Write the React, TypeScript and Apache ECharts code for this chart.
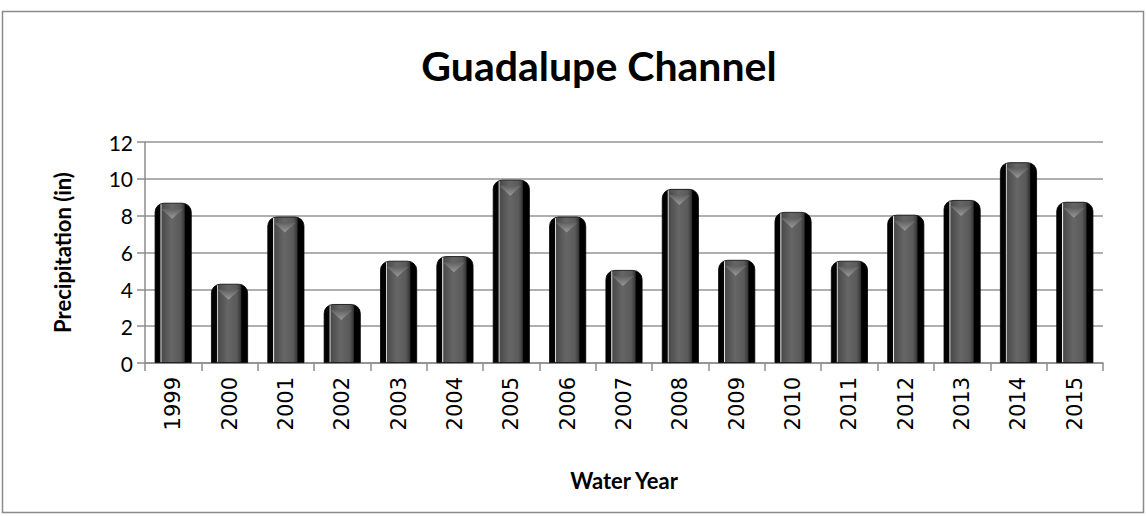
import React, { useEffect, useRef } from "react";
import * as echarts from "echarts";

const years = ["1999","2000","2001","2002","2003","2004","2005","2006","2007","2008","2009","2010","2011","2012","2013","2014","2015"];
const precipitation = [8.7, 4.3, 7.95, 3.2, 5.55, 5.8, 9.95, 7.95, 5.05, 9.45, 5.6, 8.2, 5.55, 8.05, 8.85, 10.9, 8.75];
const yTicks = { min: 0, max: 12, interval: 2 };

const barGradient = new echarts.graphic.LinearGradient(0, 0, 1, 0, [
  { offset: 0, color: "#000000" },
  { offset: 0.14, color: "#050505" },
  { offset: 0.16, color: "#f2f2f2" },
  { offset: 0.19, color: "#4a4a4a" },
  { offset: 0.45, color: "#666666" },
  { offset: 0.7, color: "#5a5a5a" },
  { offset: 0.8, color: "#3a3a3a" },
  { offset: 0.84, color: "#000000" },
  { offset: 1, color: "#000000" },
]);

const triGradient = new echarts.graphic.LinearGradient(0, 0, 0, 1, [
  { offset: 0, color: "#9a9a9a" },
  { offset: 1, color: "#606060" },
]);

export default function App() {
  const ref = useRef<HTMLDivElement>(null);
  useEffect(() => {
    if (!ref.current) return;
    const chart = echarts.init(ref.current, null, { renderer: "svg" });
    chart.setOption({
      animation: false,
      backgroundColor: "#ffffff",
      title: {
        text: "Guadalupe Channel",
        left: 594,
        top: 40,
        textAlign: "center",
        textStyle: { fontFamily: "Lato", fontWeight: "bold", fontSize: 41, color: "#000" },
      },
      graphic: [
        {
          type: "rect",
          shape: { x: 2.5, y: 11.5, width: 1141, height: 501 },
          style: { fill: "none", stroke: "#8a8a8a", lineWidth: 1.5 },
          silent: true,
        },
      ],
      grid: { left: 145, right: 43, top: 142, bottom: 153 },
      xAxis: {
        type: "category",
        data: years,
        boundaryGap: true,
        name: "Water Year",
        nameLocation: "middle",
        nameGap: 106,
        nameTextStyle: { fontFamily: "Lato", fontWeight: "bold", fontSize: 22, color: "#000" },
        axisLine: { lineStyle: { color: "#8c8c8c", width: 1.5 } },
        axisTick: { show: true, alignWithLabel: false, length: 8, lineStyle: { color: "#8c8c8c", width: 1.5 } },
        axisLabel: {
          rotate: 90,
          interval: 0,
          margin: 14,
          fontFamily: "DejaVu Sans",
          fontSize: 21,
          color: "#000",
        },
      },
      yAxis: {
        type: "value",
        min: yTicks.min,
        max: yTicks.max,
        interval: yTicks.interval,
        name: "Precipitation (in)",
        nameLocation: "middle",
        nameGap: 72,
        nameTextStyle: { fontFamily: "Lato", fontWeight: "bold", fontSize: 22, color: "#000" },
        axisLine: { show: true, lineStyle: { color: "#8c8c8c", width: 1.5 } },
        axisTick: { show: true, length: 8, lineStyle: { color: "#8c8c8c", width: 1.5 } },
        axisLabel: { margin: 12, fontFamily: "Lato", fontSize: 21, color: "#000" },
        splitLine: { show: true, lineStyle: { color: "#959595", width: 1.5 } },
      },
      series: [
        {
          type: "bar",
          data: precipitation,
          barWidth: 37,
          barGap: "-100%",
          itemStyle: {
            color: barGradient,
            borderRadius: [9, 9, 0, 0],
            borderColor: "#000",
            borderWidth: 0.8,
          },
        },
        {
          type: "pictorialBar",
          data: precipitation,
          barWidth: 37,
          barGap: "-100%",
          symbol: "triangle",
          symbolRotate: 180,
          symbolSize: [22, 10],
          symbolPosition: "end",
          symbolOffset: [-1, 6],
          itemStyle: { color: triGradient },
          z: 3,
        },
      ],
    });
    return () => chart.dispose();
  }, []);
  return <div ref={ref} style={{ position: "fixed", left: 0, top: 0, width: 1146, height: 516 }} />;
}
